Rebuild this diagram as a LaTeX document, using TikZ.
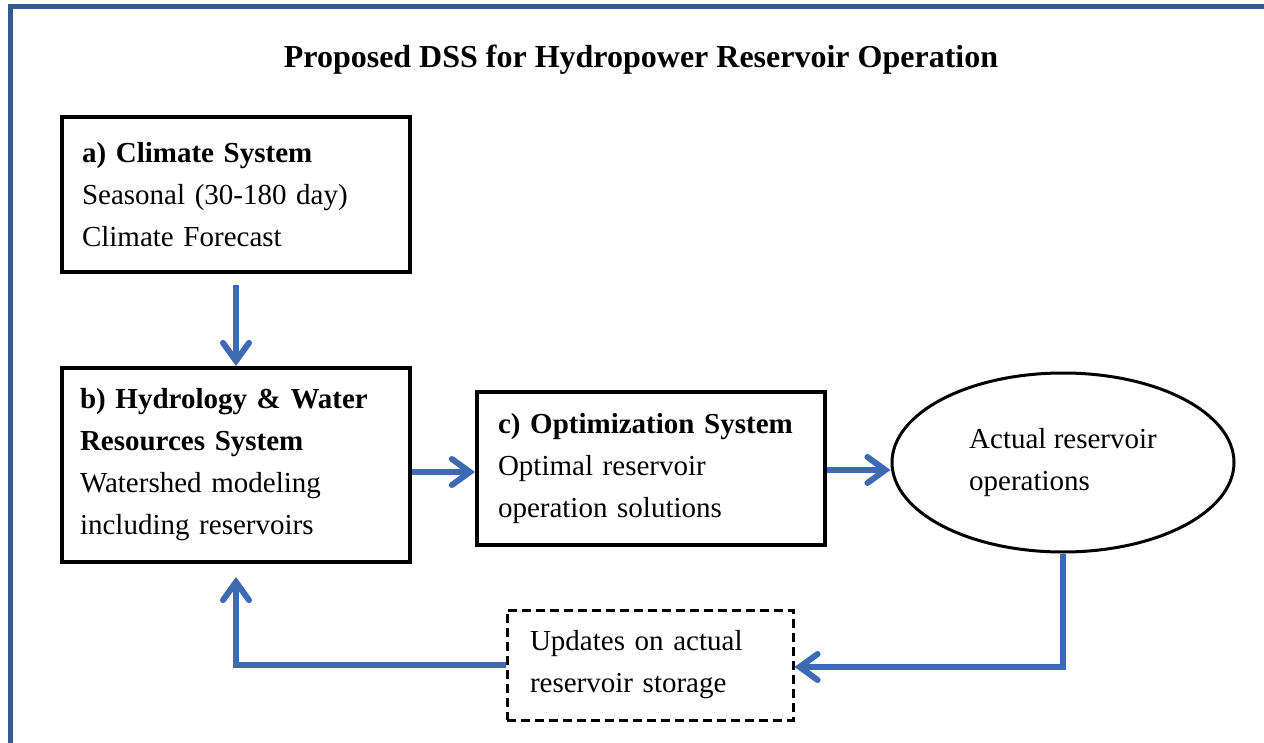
\documentclass[tikz,border=0pt]{standalone}
\usepackage{fontspec}
\setmainfont{Liberation Serif}
\usetikzlibrary{arrows.meta,shapes.geometric}
\definecolor{arrowblue}{HTML}{3D6AB2}
\definecolor{frameblue}{HTML}{365B92}
\begin{document}
\begin{tikzpicture}[x=0.5pt,y=-0.5pt,
  txt/.style={font=\fontsize{14.5}{21}\selectfont},
  box/.style={draw=black, line width=2pt, rectangle, align=left, txt, inner ysep=2pt},
  arr/.style={draw=arrowblue, line width=3pt, -{Straight Barb[length=9pt,width=13pt,line cap=round]}},
  frame/.style={draw=frameblue, line width=2.5pt}]
\useasboundingbox (0,0) rectangle (1264,743);
\clip (0,0) rectangle (1264,743);
\draw[frame] (10,760) -- (10,7) -- (1280,7);
\node[font=\bfseries\fontsize{16}{19}\selectfont, anchor=base] (t) at (641,68) {Proposed DSS for Hydropower Reservoir Operation};
\node[box, minimum width=174pt, minimum height=77.5pt, inner xsep=10pt, text width=154pt] (a) at (236,194.5)
  {\textbf{a) Climate System}\\Seasonal (30-180 day)\\Climate Forecast};
\node[box, minimum width=174pt, minimum height=97pt, inner xsep=9pt, text width=156pt] (b) at (236,465)
  {\textbf{b) Hydrology \& Water}\\\textbf{Resources System}\\Watershed modeling\\including reservoirs};
\node[box, minimum width=174pt, minimum height=76.5pt, inner xsep=10.5pt, text width=153pt] (c) at (651,468.5)
  {\textbf{c) Optimization System}\\Optimal reservoir\\operation solutions};
\node[ellipse, draw=black, line width=1.5pt, minimum width=171pt, minimum height=89.5pt, inner sep=0pt, align=left, txt] (e) at (1063,462.5)
  {Actual reservoir\\operations};
\node[draw=black, line width=1.5pt, dash pattern=on 4.5pt off 2.5pt, minimum width=143pt, minimum height=55pt, inner xsep=11.5pt, text width=120pt, align=left, txt] (d) at (650,665)
  {Updates on actual\\reservoir storage};
\draw[arr] ([yshift=-5.5pt]a.south) -- (b.north);
\draw[arr] (b.east |- 0,472) -- (c.west |- 0,472);
\draw[arr] (c.east |- 0,470) -- (e.west |- 0,470);
\draw[arr] (e.south) |- (d.east |- 0,667);
\draw[arr] (d.west |- 0,665) -| ([yshift=-6.5pt]b.south);
\end{tikzpicture}
\end{document}
